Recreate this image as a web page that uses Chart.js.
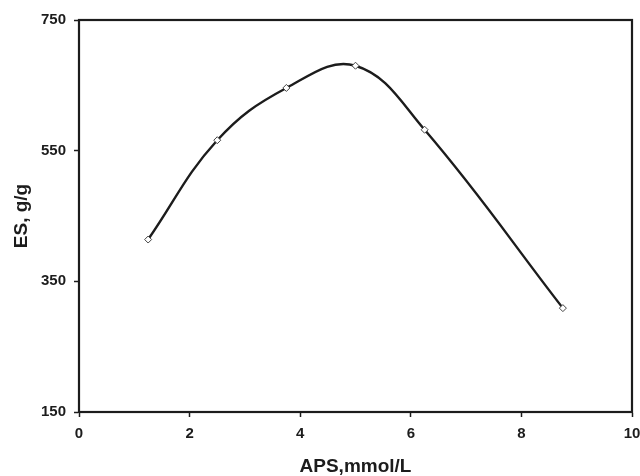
<!DOCTYPE html>
<html>
<head>
<meta charset="utf-8">
<script src="https://cdn.jsdelivr.net/npm/chart.js@4/dist/chart.umd.min.js"></script>
<style>
  html, body { margin: 0; padding: 0; background: #fff; }
  #wrap { width: 640px; height: 476px; }
</style>
</head>
<body>
<div id="wrap"><canvas id="c" width="640" height="476"></canvas></div>
<script>
// APS concentration (mmol/L) and equilibrium swelling (g/g)
const apsValues = [1.25, 2.5, 3.75, 5, 6.25, 8.75];
const esValues = [414, 566, 646, 680, 582, 309];
const xTicks = [0, 2, 4, 6, 8, 10];
const yTicks = [150, 350, 550, 750];

const points = apsValues.map((x, i) => ({ x: x, y: esValues[i] }));
const ink = '#1c1c1c';
const family = '"Liberation Sans", Arial, sans-serif';
const tickFont = { family: family, size: 15, weight: 'bold' };
const titleFont = { family: family, size: 19, weight: 'bold', lineHeight: 1 };

// Closed frame around the plot area
const frame = {
  id: 'frame',
  afterDraw(chart) {
    const a = chart.chartArea, ctx = chart.ctx;
    ctx.save();
    ctx.strokeStyle = ink;
    ctx.lineWidth = 2.2;
    ctx.strokeRect(a.left, a.top, a.right - a.left, a.bottom - a.top);
    ctx.restore();
  }
};

new Chart(document.getElementById('c'), {
  type: 'scatter',
  data: {
    datasets: [{
      data: points,
      showLine: true,
      tension: 0.4,
      borderColor: ink,
      borderWidth: 2.4,
      pointStyle: 'rectRot',
      pointRadius: 3.5,
      pointBackgroundColor: '#fff',
      pointBorderColor: '#444',
      pointBorderWidth: 1
    }]
  },
  options: {
    responsive: false,
    animation: false,
    devicePixelRatio: 1,
    layout: { padding: { top: 20, right: 8, left: 0, bottom: 0 } },
    plugins: { legend: { display: false }, tooltip: { enabled: false } },
    scales: {
      x: {
        type: 'linear',
        min: 0, max: 10,
        afterBuildTicks(axis) { axis.ticks = xTicks.map(v => ({ value: v })); },
        afterFit(axis) { axis.height = 64; axis.paddingRight = 0; axis.paddingLeft = 0; },
        grid: { display: true, drawOnChartArea: false, drawTicks: true, tickLength: 5, tickColor: ink, tickWidth: 1.5 },
        border: { color: ink, width: 2 },
        ticks: { color: ink, font: tickFont, padding: 8, maxRotation: 0 },
        title: { display: true, text: 'APS,mmol/L', color: ink, font: titleFont, padding: { top: 0, bottom: 0 } }
      },
      y: {
        type: 'linear',
        min: 150, max: 750,
        afterBuildTicks(axis) { axis.ticks = yTicks.map(v => ({ value: v })); },
        afterFit(axis) { axis.width = 79; axis.paddingTop = 0; axis.paddingBottom = 0; },
        grid: { display: true, drawOnChartArea: false, drawTicks: true, tickLength: 5, tickColor: ink, tickWidth: 1.5 },
        border: { color: ink, width: 2 },
        ticks: { color: ink, font: tickFont, padding: 8 },
        title: { display: true, text: 'ES, g/g', color: ink, font: titleFont, padding: { bottom: 0, top: 12 } }
      }
    }
  },
  plugins: [frame]
});
</script>
</body>
</html>
